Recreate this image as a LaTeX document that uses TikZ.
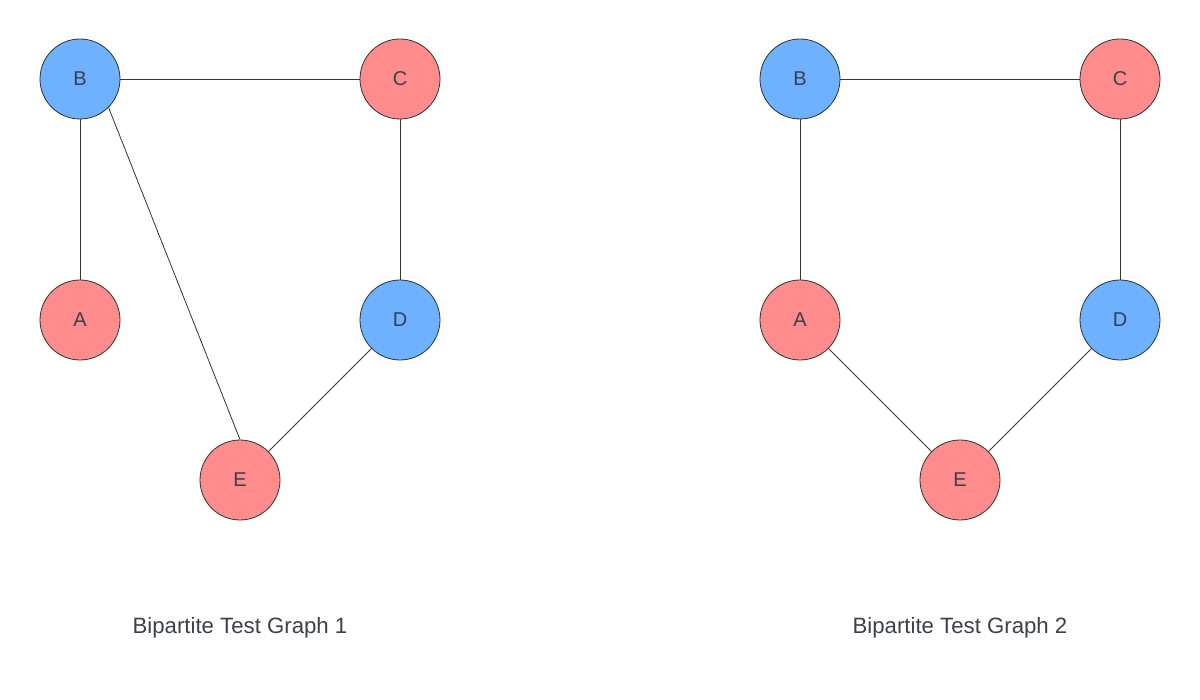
\documentclass[tikz,border=0pt]{standalone}
\usepackage{fontspec}
\setmainfont{Liberation Sans}
\usepackage{tikz}
\usetikzlibrary{positioning}
\definecolor{vblue}{HTML}{6DB1FF}
\definecolor{vred}{HTML}{FF8C8C}
\definecolor{ink}{HTML}{3A414A}
\definecolor{edgecol}{HTML}{333333}

\begin{document}
\begin{tikzpicture}[
    x=1pt, y=-1pt,
    node distance=320pt,
    font=\fontsize{20}{24}\selectfont,
    vertex/.style={
		circle,
		draw=edgecol,
		line width=0.8pt,
		minimum size=80pt,
		inner sep=0pt,
		text=ink
	},
	blue/.style={vertex, fill=vblue},
	red/.style={vertex, fill=vred},
	title/.style={
		text=ink,
		font=\fontsize{22.2}{26}\selectfont
	},
	edge/.style={
		draw=edgecol,
		line width=0.8pt
	}
  ]
  \useasboundingbox (0,0) rectangle (1200,700);
    % graph 1

  \node [blue] (b1) at (80,79) {B};
  \node [red, right of=b1] (c1) {C};
  \node [red, below of=b1, node distance=241pt] (a1) {A};
  \node [blue, below of=c1, node distance=241pt] (d1) {D};
  \node [red, below of=a1, node distance=160pt, xshift=160pt] (e1) {E};

 \draw [edge] (b1) -- (c1);
 \draw [edge] (b1) -- (a1);
 \draw [edge] (b1.south east) -- (e1.north);
 \draw [edge] (c1) -- (d1);
 \draw [edge] (d1) -- (e1);

    % graph 2

  \node [blue] (b2) at (800,79) {B};
  \node [red, right of=b2] (c2) {C};
  \node [red, below of=b2, node distance=241pt] (a2) {A};
  \node [blue, below of=c2, node distance=241pt] (d2) {D};
  \node [red, below of=a2, node distance=160pt, xshift=160pt] (e2) {E};

 \draw [edge] (b2) -- (c2);
 \draw [edge] (b2) -- (a2);
 \draw [edge] (c2) -- (d2);
 \draw [edge] (a2) -- (e2);
 \draw [edge] (d2) -- (e2);

  \node [title] (t1) at (240,628) {Bipartite Test Graph 1};
  \node [title] (t2) at (960,628) {Bipartite Test Graph 2};

\end{tikzpicture}
\end{document}
